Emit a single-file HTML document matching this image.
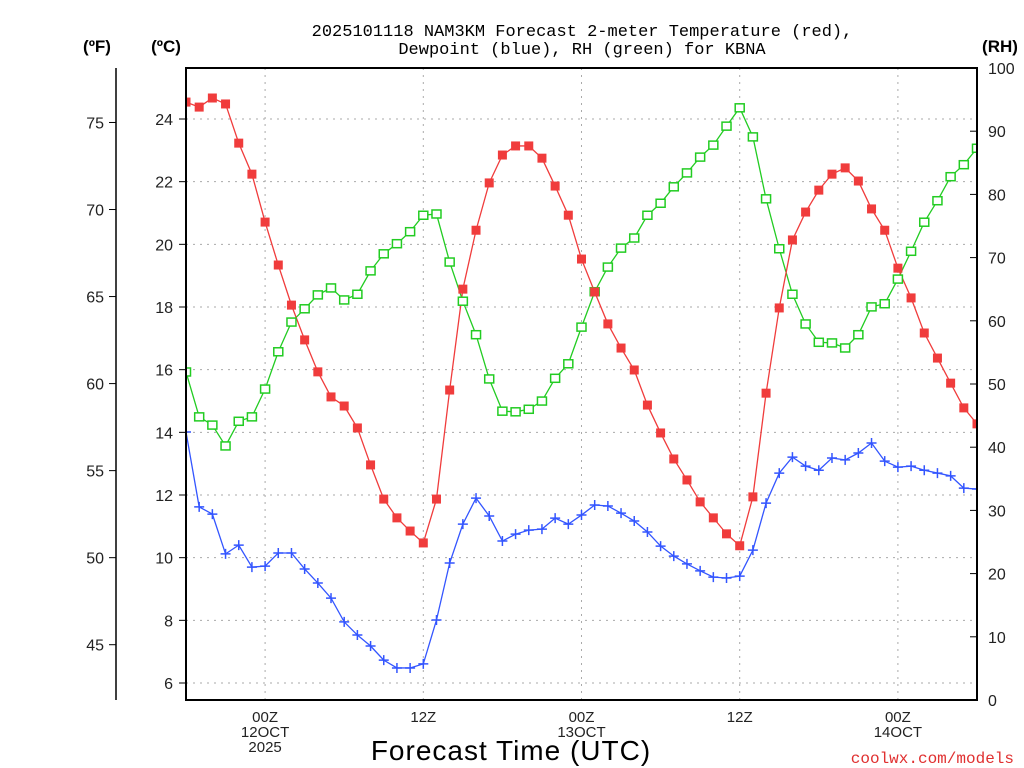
<!DOCTYPE html>
<html><head><meta charset="utf-8"><style>
html,body{margin:0;padding:0;background:#fff;}
svg{display:block;font-family:"Liberation Sans",sans-serif;}
</style></head><body>
<svg id="chart" width="1024" height="768" xmlns="http://www.w3.org/2000/svg">
<defs><clipPath id="plotclip"><rect x="186" y="68" width="791" height="632"/></clipPath></defs>
<g id="grid"></g>
<g id="series" clip-path="url(#plotclip)"></g>
<rect x="186" y="68" width="791" height="632" fill="none" stroke="#000" stroke-width="2"/>
<line x1="116" y1="68" x2="116" y2="700" stroke="#000" stroke-width="1.5"/>
<g id="axes" font-size="16" fill="#222"></g>
<text x="582" y="36" text-anchor="middle" font-size="17" font-family="Liberation Mono, monospace">2025101118 NAM3KM Forecast 2-meter Temperature (red),</text>
<text x="582" y="54" text-anchor="middle" font-size="17" font-family="Liberation Mono, monospace">Dewpoint (blue), RH (green) for KBNA</text>
<text x="97" y="52" text-anchor="middle" font-size="17" font-weight="bold">(ºF)</text>
<text x="166" y="52" text-anchor="middle" font-size="17" font-weight="bold">(ºC)</text>
<text x="1000" y="52" text-anchor="middle" font-size="17" font-weight="bold">(RH)</text>
<text x="511" y="760" text-anchor="middle" font-size="28" letter-spacing="1">Forecast Time (UTC)</text>
<text x="1014" y="763" text-anchor="end" font-size="16" fill="#e03030" font-family="Liberation Mono, monospace">coolwx.com/models</text>
</svg>
<script>
const hours = Array.from({length:61},(_,i)=>i); // forecast hour offset from 18Z 11 Oct
const tempC = [24.54,24.38,24.67,24.48,23.23,22.24,20.71,19.34,18.06,16.95,15.93,15.13,14.84,14.14,12.96,11.87,11.27,10.85,10.47,11.87,15.35,18.57,20.45,21.96,22.85,23.14,23.14,22.75,21.86,20.93,19.53,18.48,17.46,16.69,15.99,14.87,13.98,13.15,12.48,11.78,11.27,10.76,10.38,11.94,15.25,17.97,20.14,21.03,21.73,22.24,22.44,22.02,21.13,20.45,19.24,18.29,17.17,16.37,15.57,14.78,14.27];
const dewC = [14.01,11.62,11.39,10.12,10.40,9.70,9.73,10.15,10.15,9.64,9.19,8.71,7.95,7.53,7.18,6.73,6.48,6.48,6.61,8.01,9.83,11.07,11.90,11.33,10.53,10.75,10.88,10.91,11.26,11.07,11.36,11.68,11.65,11.42,11.17,10.82,10.37,10.05,9.80,9.58,9.38,9.35,9.41,10.24,11.74,12.70,13.21,12.92,12.79,13.18,13.12,13.34,13.66,13.08,12.89,12.92,12.79,12.70,12.61,12.22,12.19];
const rh = [51.9,44.8,43.5,40.2,44.1,44.8,49.2,55.1,59.8,61.9,64.1,65.2,63.3,64.2,67.9,70.6,72.2,74.1,76.7,76.9,69.3,63.1,57.8,50.8,45.7,45.6,46.0,47.3,50.9,53.2,59.0,64.6,68.5,71.5,73.1,76.7,78.6,81.2,83.4,85.9,87.8,90.8,93.7,89.1,79.3,71.4,64.2,59.5,56.6,56.5,55.7,57.8,62.2,62.7,66.6,71.0,75.6,79.0,82.8,84.7,87.3];
const cTicks = [6,8,10,12,14,16,18,20,22,24];
const fTicks = [45,50,55,60,65,70,75];
const rhTicks = [0,10,20,30,40,50,60,70,80,90,100];
const xTickHours = [6,18,30,42,54];
const xTickLabels = [["00Z","12OCT","2025"],["12Z"],["00Z","13OCT"],["12Z"],["00Z","14OCT"]];

const NS="http://www.w3.org/2000/svg";
const X0=186,X1=977,Y0=68,Y1=700;
const xS=h=>X0+(h-hours[0])*(X1-X0)/(hours[hours.length-1]-hours[0]);
const yC=c=>119+(24-c)*(683-119)/18;
const yF=f=>yC((f-32)*5/9);
const yR=r=>Y1-r*(Y1-Y0)/100;
function mk(tag,attrs,parent){const e=document.createElementNS(NS,tag);for(const k in attrs)e.setAttribute(k,attrs[k]);parent.appendChild(e);return e;}
const grid=document.getElementById('grid'),axes=document.getElementById('axes'),ser=document.getElementById('series');

cTicks.forEach(c=>{
  const y=yC(c);
  const g=mk('line',{x1:X0,x2:X1,y1:y,y2:y,stroke:'#aaa','stroke-dasharray':'2,5'},grid);
  
  
  const t=mk('line',{x1:X0-7,x2:X0,y1:y,y2:y,stroke:'#000'},axes);
  
  
  const l=mk('text',{x:X0-13,y:y+6,'text-anchor':'end'},axes);l.textContent=c;
  
  
});
fTicks.forEach(f=>{
  const y=yF(f);
  const t=mk('line',{x1:109,x2:116,y1:y,y2:y,stroke:'#000'},axes);
  
  
  const l=mk('text',{x:104,y:y+6,'text-anchor':'end'},axes);l.textContent=f;
  
  
});
rhTicks.forEach(r=>{
  const y=yR(r);
  const t=mk('line',{x1:X1-7,x2:X1,y1:y,y2:y,stroke:'#000'},axes);
  
  
  const l=mk('text',{x:988,y:y+6,'text-anchor':'start'},axes);l.textContent=r;
  
  
});
xTickHours.forEach((h,i)=>{
  const x=xS(h);
  const g=mk('line',{x1:x,x2:x,y1:Y0,y2:Y1,stroke:'#aaa','stroke-dasharray':'2,5'},grid);
  
  
  xTickLabels[i].forEach((s,j)=>{
    const l=mk('text',{x:x,y:722+j*15,'text-anchor':'middle','font-size':'15'},axes);l.textContent=s;
    
    
  });
});

function line(vals,yf,color,name){
  const p=mk('polyline',{points:vals.map((v,i)=>xS(hours[i])+','+yf(v)).join(' '),fill:'none',stroke:color,'stroke-width':1.3},ser);
  
  
}
line(rh,yR,'#22cc22','rh-line');
line(dewC,yC,'#3355ff','dewpoint-line');
line(tempC,yC,'#f03c3c','temperature-line');
rh.forEach((v,i)=>{
  const r=mk('rect',{x:xS(hours[i])-4.5,y:yR(v)-4,width:9,height:8,fill:'#fff',stroke:'#22cc22','stroke-width':1.5},ser);
  
  
});
dewC.forEach((v,i)=>{
  const x=xS(hours[i]),y=yC(v);
  const p=mk('path',{d:`M${x-5},${y}H${x+5}M${x},${y-5}V${y+5}`,stroke:'#3355ff','stroke-width':1.5},ser);
  
  
});
tempC.forEach((v,i)=>{
  const r=mk('rect',{x:xS(hours[i])-4.5,y:yC(v)-4.5,width:9,height:9,fill:'#f03c3c'},ser);
  
  
});
</script>
</body></html>
